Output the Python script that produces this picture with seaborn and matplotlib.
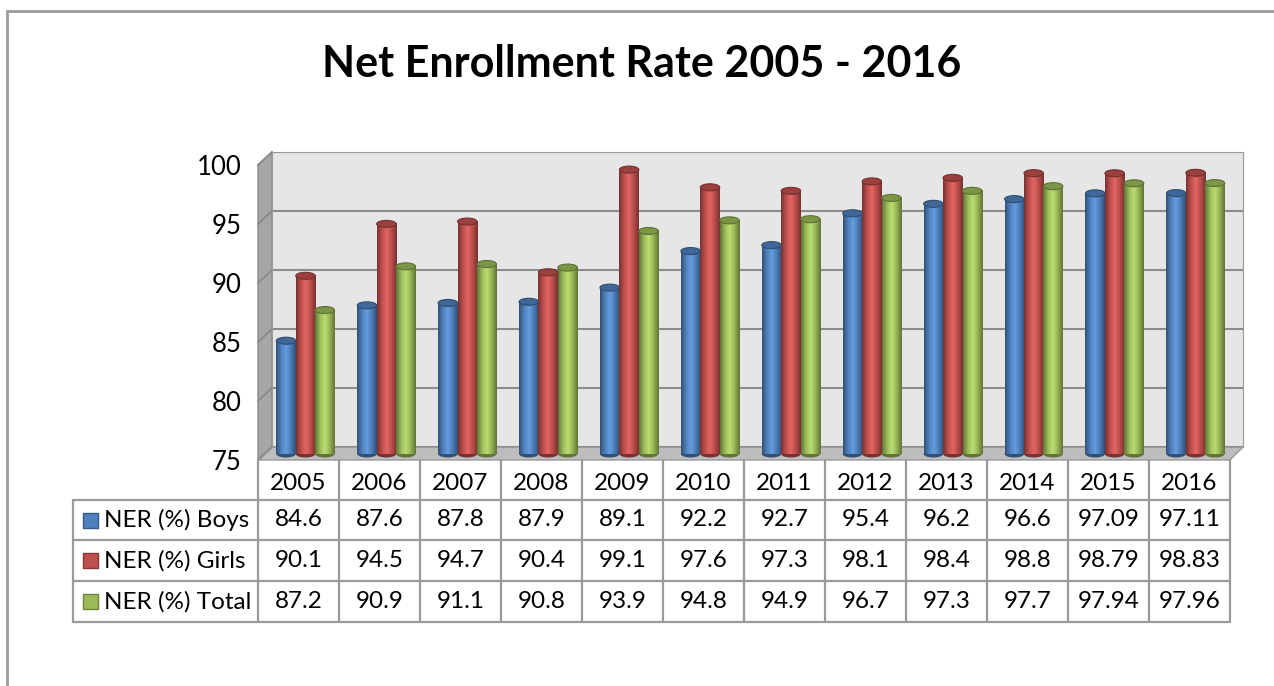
import numpy as np
import pandas as pd
import seaborn as sns
import matplotlib
matplotlib.use("Agg")
from matplotlib import pyplot as plt
from matplotlib.colors import LinearSegmentedColormap, to_rgb
from matplotlib.patches import Polygon, Ellipse, Rectangle

# data
years = ["2005", "2006", "2007", "2008", "2009", "2010",
         "2011", "2012", "2013", "2014", "2015", "2016"]
boys = [84.6, 87.6, 87.8, 87.9, 89.1, 92.2, 92.7, 95.4, 96.2, 96.6, 97.09, 97.11]
girls = [90.1, 94.5, 94.7, 90.4, 99.1, 97.6, 97.3, 98.1, 98.4, 98.8, 98.79, 98.83]
total = [87.2, 90.9, 91.1, 90.8, 93.9, 94.8, 94.9, 96.7, 97.3, 97.7, 97.94, 97.96]
series = ["NER (%) Boys", "NER (%) Girls", "NER (%) Total"]
colors = ["#4f81bd", "#c0504d", "#9bbb59"]
yticks = [75, 80, 85, 90, 95, 100]

df = pd.DataFrame({
    "year": years * 3,
    "value": boys + girls + total,
    "series": [series[0]] * 12 + [series[1]] * 12 + [series[2]] * 12,
})

sns.set_style("white")
plt.rcParams["font.family"] = ["Lato", "DejaVu Sans"]
plt.rcParams["text.color"] = "black"
plt.rcParams["ytick.color"] = "black"

W, H = 1274, 686
fig = plt.figure(figsize=(W / 100, H / 100), dpi=100)


def px_axes(x0, y0, x1, y1, **kw):
    return fig.add_axes([x0 / W, 1 - y1 / H, (x1 - x0) / W, (y1 - y0) / H], **kw)


# overlay in pixel coords for frame, walls and table
ov = px_axes(0, 0, W, H, zorder=0)
ov.set_xlim(0, W)
ov.set_ylim(H, 0)
ov.axis("off")

ov.plot([7, 7, W + 5], [H + 5, 11, 11], color="#9a9a9a", lw=2, solid_joinstyle="miter")

ov.text(642, 64, "Net Enrollment Rate 2005 - 2016", ha="center", va="center",
        fontsize=31, fontweight="bold")

# side wall and floor
ov.add_patch(Polygon([(258, 165), (272, 152), (272, 447), (258, 460)],
                     closed=True, fc="#a6a6a6", ec="#8c8c8c", lw=1))
for k in range(6):
    ov.plot([258, 272], [165 + 59 * k, 152 + 59 * k], color="#8c8c8c", lw=1.5)
ov.add_patch(Polygon([(258, 460), (272, 447), (1243, 447), (1230, 460)],
                     closed=True, fc="#bdbdbd", ec="#9a9a9a", lw=1))

# back wall
wall = px_axes(272, 152, 1243, 447, zorder=1)
wall.set_facecolor("#e6e6e6")
wall.set_ylim(75, 100)
wall.set_yticks(yticks)
wall.set_xticks([])
wall.tick_params(left=False, labelleft=False)
wall.grid(axis="y", color="#8c8c8c", lw=1.5)
for s in wall.spines.values():
    s.set_color("#9a9a9a")

# bars at mid depth
ax = px_axes(265, 159, 1236, 454, zorder=2)
ax.patch.set_alpha(0)
sns.barplot(data=df, x="year", y="value", hue="series", palette=colors,
            width=0.72, ax=ax, legend=False, saturation=1)
ax.set_ylim(75, 100)
ax.set_xlim(-0.5, 11.5)
ax.axis("off")

unit = 25 / 295  # data units per pixel
for rect in list(ax.patches):
    c = np.array(rect.get_facecolor()[:3])
    dark = c * 0.62
    light = np.minimum(c * 1.12 + 0.05, 1)
    cmap = LinearSegmentedColormap.from_list("cyl", [dark, c, light, c * 0.95, dark])
    x, w, top = rect.get_x(), rect.get_width(), rect.get_height()
    ax.imshow(np.linspace(0, 1, 64)[None, :], extent=[x, x + w, 75, top],
              aspect="auto", cmap=cmap, zorder=3, interpolation="bilinear")
    ax.add_patch(Ellipse((x + w / 2, 75), w, 7 * unit, fc=dark, ec="none",
                         zorder=2.9, clip_on=False))
    ax.add_patch(Ellipse((x + w / 2, top), w, 7 * unit, fc=c * 0.8,
                         ec=c * 0.6, lw=0.8, zorder=4))
    rect.set_visible(False)
ax.set_ylim(75, 100)
ax.set_xlim(-0.5, 11.5)

# front plane: y tick labels
front = px_axes(258, 165, 1230, 460, zorder=1.5)
front.patch.set_alpha(0)
front.set_ylim(75, 100)
front.set_yticks(yticks)
front.set_yticklabels([str(t) for t in yticks], fontsize=18.5)
front.tick_params(axis="y", length=0, pad=12)
front.set_xticks([])
for s in front.spines.values():
    s.set_visible(False)

# data table
lc, lw = "#9a9a9a", 1.6
fs = 17.5
cols = [258 + 81 * i for i in range(13)]
rows = [460, 500, 540, 581, 622]
for i, xx in enumerate(cols):
    ov.plot([xx, xx], [rows[0], rows[-1]], color=lc, lw=lw)
ov.plot([73, 73], [rows[1], rows[-1]], color=lc, lw=lw)
for r in rows[1:]:
    ov.plot([73, cols[-1]], [r, r], color=lc, lw=lw)

for i, yr in enumerate(years):
    ov.text((cols[i] + cols[i + 1]) / 2, (rows[0] + rows[1]) / 2 + 3, yr,
            ha="center", va="center", fontsize=fs)
for j, vals in enumerate([boys, girls, total]):
    yc = (rows[j + 1] + rows[j + 2]) / 2
    ov.add_patch(Rectangle((83, yc - 7.5), 15, 15, fc=colors[j],
                           ec=np.array(to_rgb(colors[j])) * 0.7, lw=1))
    ov.text(104, yc, series[j], ha="left", va="center", fontsize=fs)
    for i, v in enumerate(vals):
        ov.text((cols[i] + cols[i + 1]) / 2, yc, f"{v:g}",
                ha="center", va="center", fontsize=fs)

fig.savefig("out.png", dpi=100)
